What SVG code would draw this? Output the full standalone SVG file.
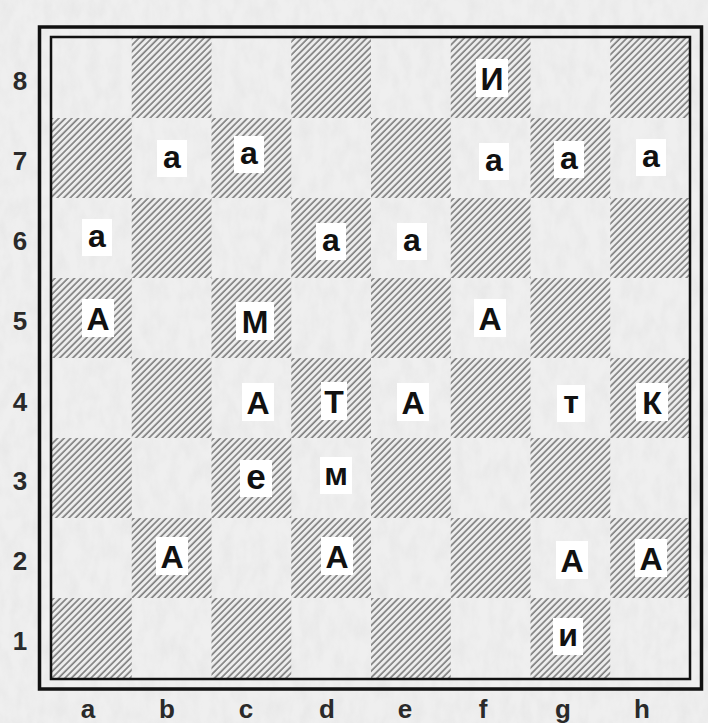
<svg xmlns="http://www.w3.org/2000/svg" width="708" height="723" viewBox="0 0 708 723">
<defs>
<pattern id="hatch" width="4.6" height="4.6" patternUnits="userSpaceOnUse" patternTransform="rotate(45)">
<rect width="4.6" height="4.6" fill="#ededed"/>
<line x1="1" y1="0" x2="1" y2="4.6" stroke="#666666" stroke-width="1.35"/>
</pattern>
<filter id="tex" x="0" y="0" width="100%" height="100%">
<feTurbulence type="fractalNoise" baseFrequency="0.09 0.05" numOctaves="3" seed="4" result="n"/>
<feColorMatrix in="n" type="matrix" values="0 0 0 0 0.6  0 0 0 0 0.6  0 0 0 0 0.6  0 0 0 -0.9 0.6"/>
</filter>
<style>
.bx{fill:#ffffff}
.pc{font-family:"Liberation Sans",Arial,sans-serif;font-weight:bold;font-size:32px;fill:#111;text-anchor:middle}
.lb{font-family:"Liberation Sans",Arial,sans-serif;font-weight:bold;font-size:26px;fill:#2a2a2a;text-anchor:middle}
.dk{fill:url(#hatch)}
</style>
</defs>
<rect width="708" height="723" fill="#efefef"/>
<rect width="708" height="723" filter="url(#tex)" opacity="0.35"/>
<g id="board">
<g class="dk">
<rect x="131.75" y="38" width="79.75" height="80"/>
<rect x="291.25" y="38" width="79.75" height="80"/>
<rect x="450.75" y="38" width="79.75" height="80"/>
<rect x="610.25" y="38" width="79.75" height="80"/>
<rect x="52" y="118" width="79.75" height="80"/>
<rect x="211.5" y="118" width="79.75" height="80"/>
<rect x="371" y="118" width="79.75" height="80"/>
<rect x="530.5" y="118" width="79.75" height="80"/>
<rect x="131.75" y="198" width="79.75" height="80"/>
<rect x="291.25" y="198" width="79.75" height="80"/>
<rect x="450.75" y="198" width="79.75" height="80"/>
<rect x="610.25" y="198" width="79.75" height="80"/>
<rect x="52" y="278" width="79.75" height="80"/>
<rect x="211.5" y="278" width="79.75" height="80"/>
<rect x="371" y="278" width="79.75" height="80"/>
<rect x="530.5" y="278" width="79.75" height="80"/>
<rect x="131.75" y="358" width="79.75" height="80"/>
<rect x="291.25" y="358" width="79.75" height="80"/>
<rect x="450.75" y="358" width="79.75" height="80"/>
<rect x="610.25" y="358" width="79.75" height="80"/>
<rect x="52" y="438" width="79.75" height="80"/>
<rect x="211.5" y="438" width="79.75" height="80"/>
<rect x="371" y="438" width="79.75" height="80"/>
<rect x="530.5" y="438" width="79.75" height="80"/>
<rect x="131.75" y="518" width="79.75" height="80"/>
<rect x="291.25" y="518" width="79.75" height="80"/>
<rect x="450.75" y="518" width="79.75" height="80"/>
<rect x="610.25" y="518" width="79.75" height="80"/>
<rect x="52" y="598" width="79.75" height="80"/>
<rect x="211.5" y="598" width="79.75" height="80"/>
<rect x="371" y="598" width="79.75" height="80"/>
<rect x="530.5" y="598" width="79.75" height="80"/>
</g>
<rect x="51" y="37" width="639" height="642" fill="none" stroke="#111" stroke-width="2.5"/>
<rect x="39.5" y="27" width="662" height="662" fill="none" stroke="#111" stroke-width="3.5"/>
</g>
<g id="ranks">
<text class="lb" x="20" y="90">8</text>
<text class="lb" x="20" y="170">7</text>
<text class="lb" x="20" y="250">6</text>
<text class="lb" x="20" y="330">5</text>
<text class="lb" x="20" y="411">4</text>
<text class="lb" x="20" y="490">3</text>
<text class="lb" x="20" y="570">2</text>
<text class="lb" x="20" y="650">1</text>
</g>
<g id="files">
<text class="lb" x="88" y="718">a</text>
<text class="lb" x="167" y="718">b</text>
<text class="lb" x="246" y="718">c</text>
<text class="lb" x="327" y="718">d</text>
<text class="lb" x="405" y="718">e</text>
<text class="lb" x="483" y="718">f</text>
<text class="lb" x="563" y="718">g</text>
<text class="lb" x="642" y="718">h</text>
</g>
<g id="pieces">
<g id="f8"><rect class="bx" x="476" y="59" width="32" height="38"/><text class="pc" x="492" y="89.5">И</text></g>
<g id="b7"><rect class="bx" x="157" y="140" width="30" height="37"/><text class="pc" x="172" y="167.5">а</text></g>
<g id="c7"><rect class="bx" x="234" y="136" width="30" height="37"/><text class="pc" x="249" y="163.5">а</text></g>
<g id="f7"><rect class="bx" x="479" y="143" width="30" height="37"/><text class="pc" x="494" y="170.5">а</text></g>
<g id="g7"><rect class="bx" x="554" y="141" width="30" height="37"/><text class="pc" x="569" y="168.5">а</text></g>
<g id="h7"><rect class="bx" x="636" y="139" width="30" height="37"/><text class="pc" x="651" y="166.5">а</text></g>
<g id="a6"><rect class="bx" x="82" y="219" width="30" height="37"/><text class="pc" x="97" y="246.5">а</text></g>
<g id="d6"><rect class="bx" x="316" y="223" width="30" height="37"/><text class="pc" x="331" y="250.5">а</text></g>
<g id="e6"><rect class="bx" x="397" y="223" width="30" height="37"/><text class="pc" x="412" y="250.5">а</text></g>
<g id="a5"><rect class="bx" x="82" y="299" width="32" height="38"/><text class="pc" x="98" y="329.5">А</text></g>
<g id="c5"><rect class="bx" x="236" y="302" width="38" height="38"/><text class="pc" x="255" y="332.5">М</text></g>
<g id="f5"><rect class="bx" x="474" y="299" width="32" height="38"/><text class="pc" x="490" y="329.5">А</text></g>
<g id="c4"><rect class="bx" x="242" y="383" width="32" height="38"/><text class="pc" x="258" y="413.5">А</text></g>
<g id="d4"><rect class="bx" x="321" y="382" width="26" height="38"/><text class="pc" x="334" y="412.5">Т</text></g>
<g id="e4"><rect class="bx" x="397" y="383" width="32" height="38"/><text class="pc" x="413" y="413.5">А</text></g>
<g id="g4"><rect class="bx" x="557" y="385" width="28" height="37"/><text class="pc" x="571" y="412.5">т</text></g>
<g id="h4"><rect class="bx" x="636" y="383" width="32" height="38"/><text class="pc" x="652" y="413.5">К</text></g>
<g id="c3"><rect class="bx" x="240" y="460" width="32" height="37"/><text class="pc" x="256" y="488.5" style="font-size:35px">е</text></g>
<g id="d3"><rect class="bx" x="320" y="457" width="32" height="37"/><text class="pc" x="336" y="484.5">м</text></g>
<g id="b2"><rect class="bx" x="156" y="537" width="32" height="38"/><text class="pc" x="172" y="567.5">А</text></g>
<g id="d2"><rect class="bx" x="321" y="537" width="32" height="38"/><text class="pc" x="337" y="567.5">А</text></g>
<g id="g2"><rect class="bx" x="556" y="541" width="32" height="38"/><text class="pc" x="572" y="571.5">А</text></g>
<g id="h2"><rect class="bx" x="635" y="539" width="32" height="38"/><text class="pc" x="651" y="569.5">А</text></g>
<g id="g1"><rect class="bx" x="553" y="618" width="30" height="37"/><text class="pc" x="568" y="645.5">и</text></g>
</g>
</svg>
